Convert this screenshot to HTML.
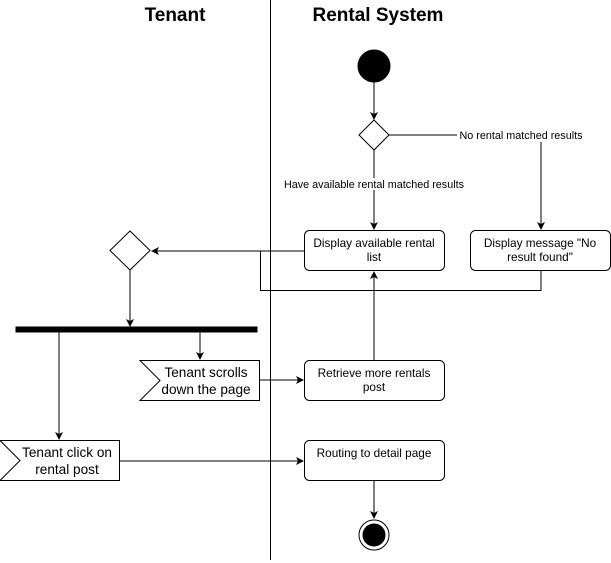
<!DOCTYPE html>
<html><head><style>
html,body{margin:0;padding:0;background:#fff;}
svg{display:block;font-family:"Liberation Sans",Arial,sans-serif;}
</style></head><body>
<svg width="611" height="563" viewBox="0 0 611 563" xmlns="http://www.w3.org/2000/svg">
<defs><marker id="a" markerWidth="8" markerHeight="8" refX="7" refY="4" orient="auto" markerUnits="userSpaceOnUse"><path d="M0,0 L8,4 L0,8 L2,4 z" fill="#000"/></marker></defs>
<rect width="611" height="563" fill="#fff"/>
<line x1="270.5" y1="0" x2="270.5" y2="560" stroke="#000"/>
<text x="175" y="21" font-size="19" font-weight="bold" text-anchor="middle">Tenant</text>
<text x="378" y="21" font-size="19" font-weight="bold" text-anchor="middle">Rental System</text>
<g stroke="#000" fill="none">
<circle cx="374" cy="66" r="16" fill="#000"/>
<line x1="374" y1="82" x2="374" y2="119" marker-end="url(#a)"/>
<path d="M374,120 L389,135 L374,150 L359,135 Z" fill="#fff"/>
<line x1="374" y1="150" x2="374" y2="229" marker-end="url(#a)"/>
<polyline points="389,135 541,135 541,229" marker-end="url(#a)"/>
<rect x="304.5" y="230.5" width="140" height="40" rx="5" fill="#fff"/>
<rect x="470.5" y="230.5" width="140" height="40" rx="5" fill="#fff"/>
<polyline points="541,270 541,290.5 260.5,290.5 260.5,251"/>
<line x1="304" y1="251" x2="152" y2="251" marker-end="url(#a)"/>
<path d="M130,231 L150,250.5 L130,270 L110,250.5 Z" fill="#fff"/>
<line x1="130" y1="270" x2="130" y2="326" marker-end="url(#a)"/>
<rect x="16" y="327" width="241" height="5" fill="#000"/>
<line x1="200" y1="332" x2="200" y2="359" marker-end="url(#a)"/>
<line x1="59" y1="332" x2="59" y2="439" marker-end="url(#a)"/>
<path d="M140,360.5 L259.5,360.5 L259.5,400.5 L140,400.5 L160,380.5 Z" fill="#fff"/>
<line x1="259" y1="380" x2="303" y2="380" marker-end="url(#a)"/>
<rect x="304.5" y="360.5" width="140" height="40" rx="5" fill="#fff"/>
<line x1="374" y1="360" x2="374" y2="272" marker-end="url(#a)"/>
<path d="M0,440.5 L119.5,440.5 L119.5,480.5 L0,480.5 L20,460.5 Z" fill="#fff"/>
<line x1="119" y1="461" x2="303" y2="461" marker-end="url(#a)"/>
<rect x="304.5" y="440.5" width="140" height="40" rx="5" fill="#fff"/>
<line x1="374" y1="480" x2="374" y2="518" marker-end="url(#a)"/>
<circle cx="374" cy="535" r="15" fill="#fff"/>
<circle cx="374" cy="535" r="11" fill="#000"/>
</g>
<rect x="457" y="130" width="128" height="12" fill="#fff"/>
<text x="521" y="139" font-size="10.8" text-anchor="middle">No rental matched results</text>
<rect x="280" y="178" width="190" height="12" fill="#fff"/>
<text x="374" y="188" font-size="10.8" text-anchor="middle">Have available rental matched results</text>
<g font-size="11.8" text-anchor="middle">
<text x="374" y="247">Display available rental</text><text x="374" y="261">list</text>
<text x="540" y="247">Display message "No</text><text x="540" y="261">result found"</text>
<text x="374" y="377">Retrieve more rentals</text><text x="374" y="391">post</text>
<text x="374" y="457">Routing to detail page</text>
</g>
<g font-size="13.6" text-anchor="middle">
<text x="206" y="377">Tenant scrolls</text><text x="206" y="394">down the page</text>
<text x="67" y="457">Tenant click on</text><text x="67" y="474">rental post</text>
</g>
</svg>
</body></html>
